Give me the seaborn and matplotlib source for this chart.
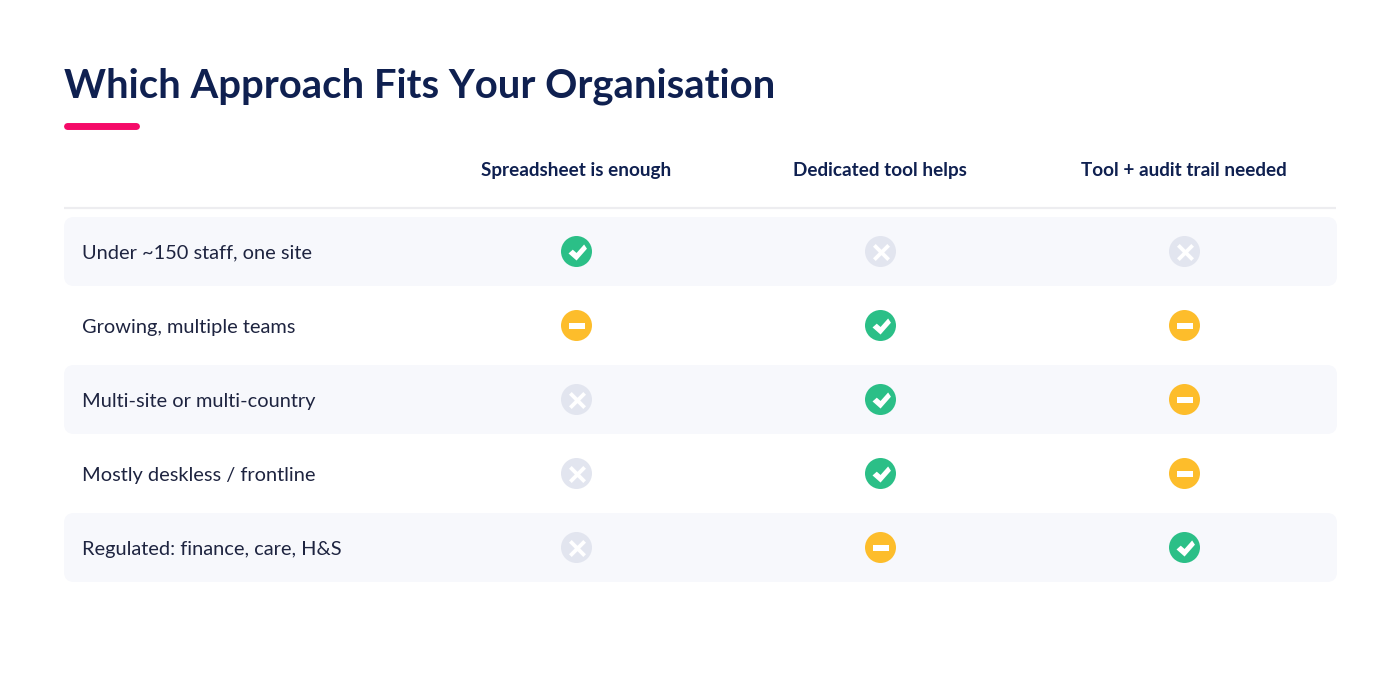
import matplotlib
matplotlib.use('Agg')
import matplotlib.pyplot as plt
import pandas as pd
import seaborn as sns
from matplotlib.patches import FancyBboxPatch
from matplotlib.path import Path

title = 'Which Approach Fits Your Organisation'
columns = ['Spreadsheet is enough', 'Dedicated tool helps', 'Tool + audit trail needed']
rows = ['Under ~150 staff, one site', 'Growing, multiple teams', 'Multi-site or multi-country',
        'Mostly deskless / frontline', 'Regulated: finance, care, H&S']
col1 = ['yes', 'partly', 'no', 'no', 'no']
col2 = ['no', 'yes', 'yes', 'yes', 'partly']
col3 = ['no', 'partly', 'partly', 'partly', 'yes']

NAVY = '#0f2050'
INK = '#1e2440'
palette = {'yes': '#2bbf87', 'partly': '#fdbd2b', 'no': '#e2e5ef'}

sns.set_theme(style='white')
plt.rcParams['font.family'] = ['Lato', 'DejaVu Sans']

# long table, one line per cell
df = pd.DataFrame({'situation': rows, columns[0]: col1, columns[1]: col2, columns[2]: col3})
df = df.melt(id_vars='situation', var_name='approach', value_name='status')

fig = plt.figure(figsize=(14, 7), dpi=100)

# background layer works in pixels of the picture
bg = fig.add_axes([0, 0, 1, 1])
bg.set_xlim(0, 1400)
bg.set_ylim(700, 0)
bg.axis('off')

bg.text(64, 97.6, title, fontsize=28.8, fontweight='bold', color=NAVY, va='baseline', ha='left')
bg.plot([67, 135.5], [126, 126], color='#f50a68', lw=5, solid_capstyle='round')
bg.plot([64, 1336], [208, 208], color='#ededf0', lw=1.6, solid_capstyle='butt')

for i, name in enumerate(rows):
    top = 217 + 74 * i
    if i % 2 == 0:
        bg.add_patch(FancyBboxPatch((74, top + 10), 1253, 49, boxstyle='round,pad=10,rounding_size=10',
                                    fc='#f7f8fc', ec='none'))
    bg.text(82, top + 41.5, name, fontsize=14.4, color=INK, va='baseline', ha='left')

for i, name in enumerate(columns):
    bg.text(576 + 304 * i, 176, name, fontsize=13.6, fontweight='bold', color=NAVY, va='baseline', ha='center')

# marks layer, categories on both axes
ax = fig.add_axes([0, 0, 1, 1])
ax.patch.set_alpha(0)
sns.scatterplot(data=df, x='approach', y='situation', hue='status', palette=palette,
                s=498, linewidth=0, legend=False, ax=ax, zorder=2)

check = Path([(-0.95, -0.1), (-0.5, 0.3), (-0.1, -0.05), (0.7, 0.85), (1.0, 0.4), (-0.1, -0.85), (-0.95, -0.1)], closed=True)
minus = Path([(-1.0, -0.37), (1.0, -0.37), (1.0, 0.37), (-1.0, 0.37), (-1.0, -0.37)], closed=True)
cross = Path([(-1, -0.68), (-0.68, -1), (0, -0.32), (0.68, -1), (1, -0.68), (0.32, 0), (1, 0.68), (0.68, 1),
              (0, 0.32), (-0.68, 1), (-1, 0.68), (-0.32, 0), (-1, -0.68)], closed=True)
glyphs = {'yes': (check, 185), 'partly': (minus, 121), 'no': (cross, 150)}
for status, (marker, size) in glyphs.items():
    sns.scatterplot(data=df[df['status'] == status], x='approach', y='situation', marker=marker,
                    color='white', s=size, linewidth=0, legend=False, ax=ax, zorder=3)

# one column step is 304 px, one row step 74 px
ax.set_xlim(-576.5 / 304, (1400 - 576.5) / 304)
ax.set_ylim((700 - 251.5) / 74, -251.5 / 74)
ax.axis('off')

fig.savefig('out.png', dpi=100)
